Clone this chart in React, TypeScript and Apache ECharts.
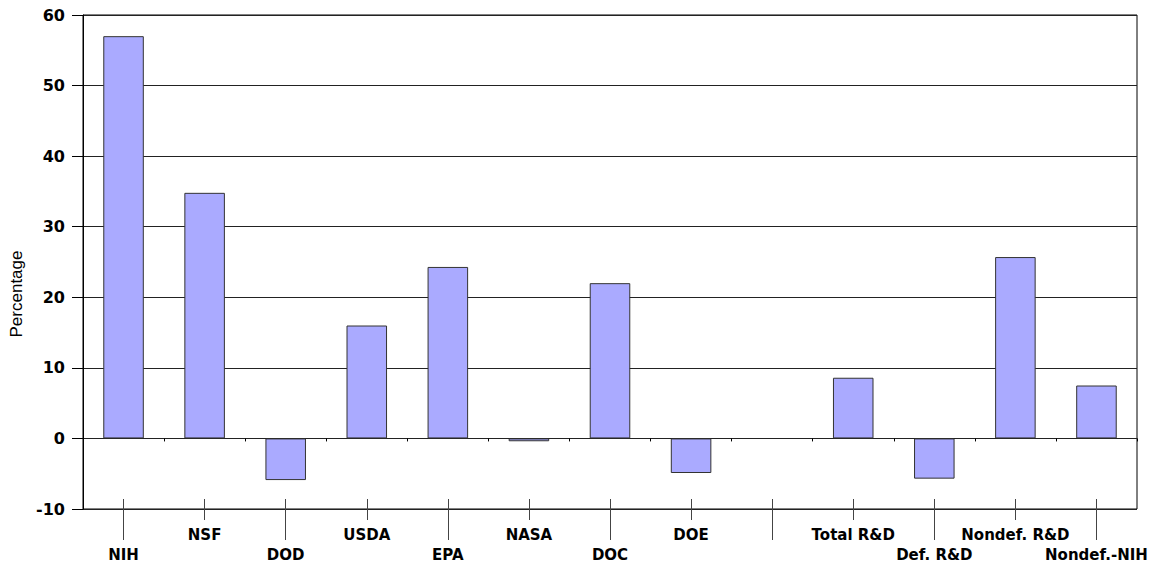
import React, { useEffect, useRef } from "react";
import * as echarts from "echarts";

const categories = [
  "NIH", "NSF", "DOD", "USDA", "EPA", "NASA", "DOC", "DOE", "",
  "Total R&D", "Def. R&D", "Nondef. R&D", "Nondef.-NIH",
];
const values: (number | string)[] = [
  57, 34.8, -5.9, 16, 24.3, -0.4, 22, -4.9, "-", 8.6, -5.7, 25.7, 7.5,
];
const yMin = -10;
const yMax = 60;
const yStep = 10;

export default function App() {
  const ref = useRef<HTMLDivElement>(null);
  useEffect(() => {
    if (!ref.current) return;
    const chart = echarts.init(ref.current, null, { renderer: "svg" });
    const boldFont = "DejaVu Sans, Verdana, sans-serif";
    const labelStyle = {
      fontFamily: boldFont,
      fontSize: 15,
      fontWeight: "bold" as const,
      color: "#000",
    };
    chart.setOption({
      animation: false,
      backgroundColor: "#fff",
      grid: {
        left: 83,
        right: 16,
        top: 15,
        bottom: 53,
        show: true,
        borderColor: "#000",
        borderWidth: 1,
        backgroundColor: "transparent",
      },
      xAxis: [
        {
          type: "category",
          data: categories,
          position: "bottom",
          axisLine: { show: false },
          axisTick: {
            show: true,
            alignWithLabel: false,
            length: 3,
            interval: 0,
            lineStyle: { color: "#000" },
          },
          axisLabel: {
            ...labelStyle,
            interval: 0,
            margin: 18,
            formatter: (v: string, i: number) => (i % 2 === 1 ? v : ""),
          },
          splitLine: { show: false },
        },
        {
          type: "category",
          data: categories,
          position: "bottom",
          offset: -10,
          axisLine: { show: false },
          axisTick: {
            show: true,
            alignWithLabel: true,
            length: 41,
            interval: (i: number) => i % 2 === 0,
            lineStyle: { color: "#444" },
          },
          axisLabel: {
            ...labelStyle,
            interval: 0,
            margin: 48,
            formatter: (v: string, i: number) => (i % 2 === 0 ? v : ""),
          },
          splitLine: { show: false },
        },
        {
          type: "category",
          data: categories,
          position: "bottom",
          offset: -10,
          axisLine: { show: false },
          axisTick: {
            show: true,
            alignWithLabel: true,
            length: 21,
            interval: (i: number) => i % 2 === 1,
            lineStyle: { color: "#444" },
          },
          axisLabel: { show: false },
          splitLine: { show: false },
        },
      ],
      yAxis: {
        type: "value",
        min: yMin,
        max: yMax,
        interval: yStep,
        name: "Percentage",
        nameLocation: "middle",
        nameRotate: 90,
        nameGap: 54,
        nameTextStyle: {
          fontFamily: "Liberation Sans, Arial, sans-serif",
          fontSize: 17,
          color: "#000",
          padding: [0, 64, 0, 0],
        },
        axisLine: { show: true, lineStyle: { color: "#000" } },
        axisTick: { show: true, length: 11, lineStyle: { color: "#000" } },
        axisLabel: { ...labelStyle, fontSize: 16, margin: 18 },
        splitLine: { show: true, lineStyle: { color: "#222", width: 1 } },
      },
      series: [
        {
          type: "bar",
          xAxisIndex: 0,
          data: values,
          barWidth: "50%",
          itemStyle: {
            color: "#aaaaff",
            borderColor: "#333",
            borderWidth: 1,
          },
        },
      ],
    });
    return () => chart.dispose();
  }, []);
  return (
    <div
      ref={ref}
      style={{ position: "fixed", left: 0, top: 0, width: 1153, height: 562 }}
    />
  );
}
